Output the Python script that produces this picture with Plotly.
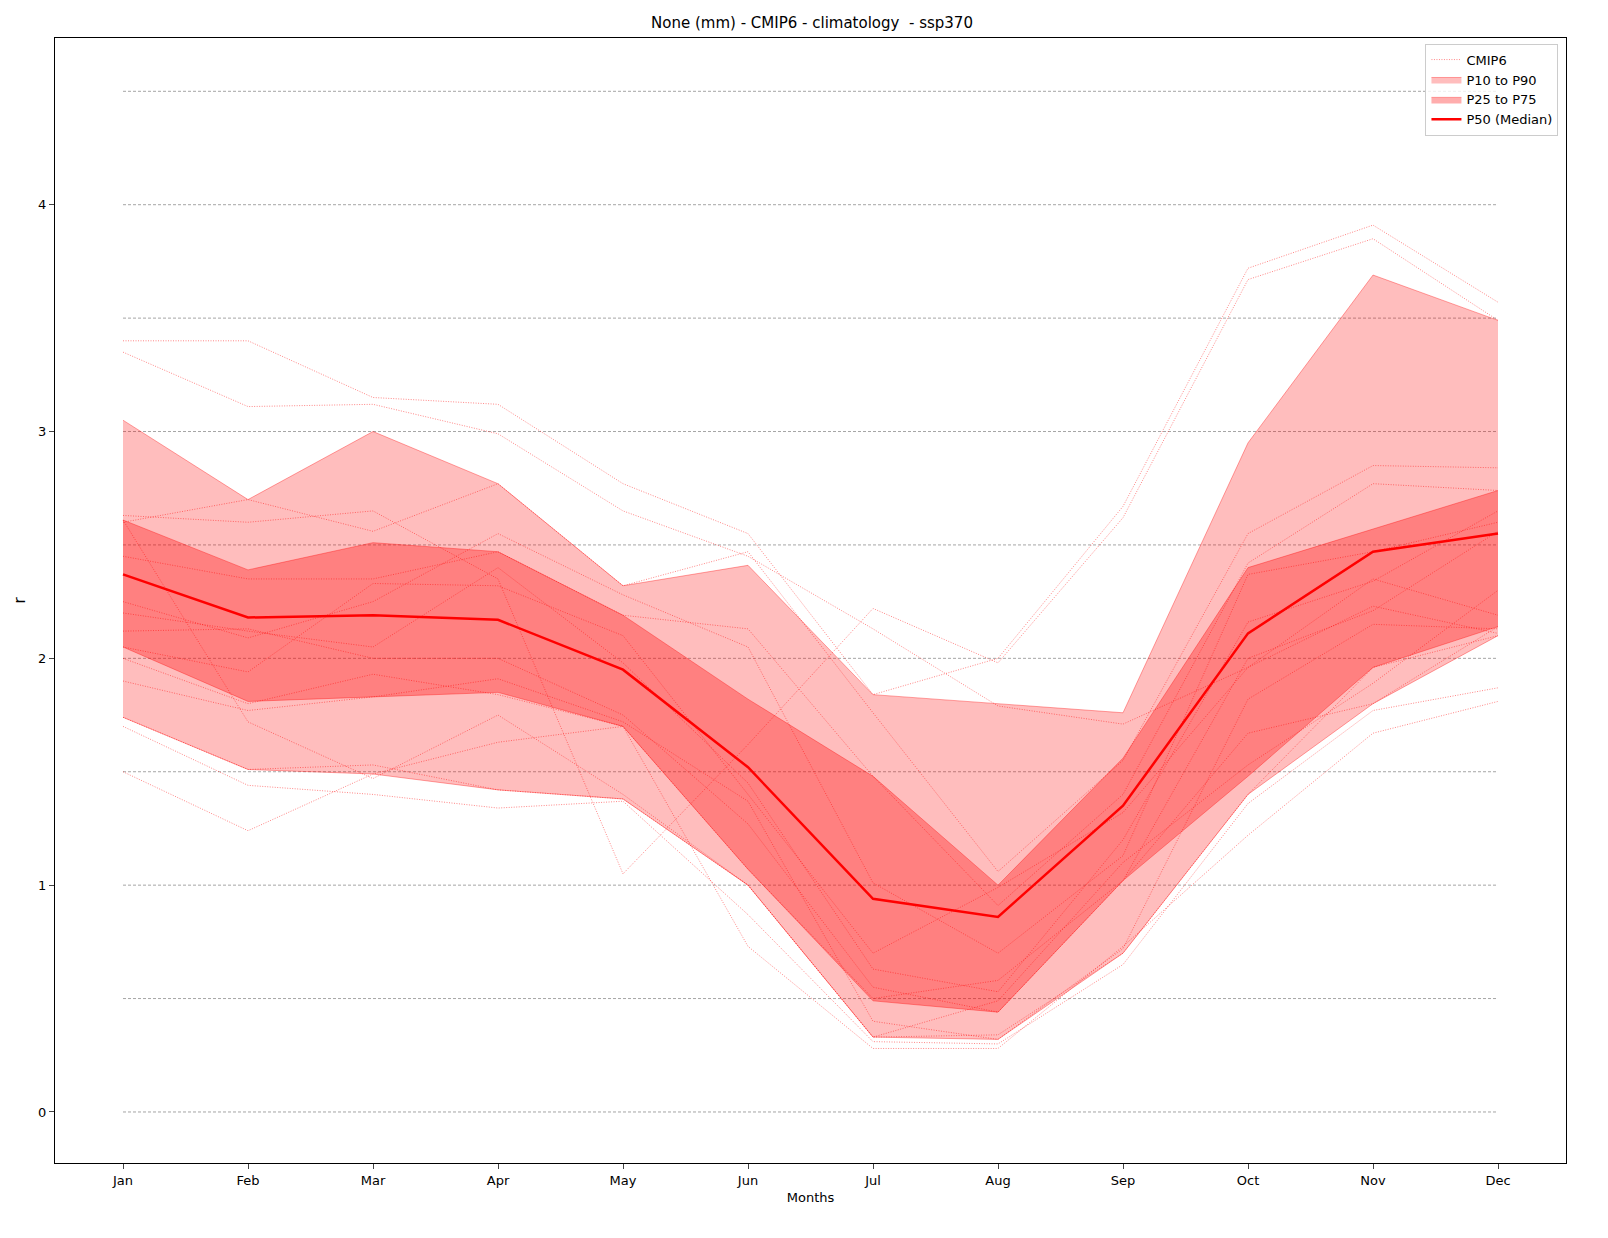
import plotly.graph_objects as go

months = ["Jan", "Feb", "Mar", "Apr", "May", "Jun", "Jul", "Aug", "Sep", "Oct", "Nov", "Dec"]

p90 = [3.05, 2.70, 3.00, 2.77, 2.32, 2.41, 1.84, 1.80, 1.76, 2.95, 3.69, 3.49]
p10 = [1.74, 1.51, 1.49, 1.42, 1.38, 1.00, 0.33, 0.32, 0.70, 1.40, 1.80, 2.10]
p75 = [2.61, 2.39, 2.51, 2.47, 2.19, 1.82, 1.48, 1.00, 1.56, 2.40, 2.57, 2.74]
p25 = [2.05, 1.81, 1.83, 1.85, 1.70, 1.07, 0.49, 0.44, 1.02, 1.48, 1.96, 2.14]
p50 = [2.37, 2.18, 2.19, 2.17, 1.95, 1.52, 0.94, 0.86, 1.35, 2.11, 2.47, 2.55]

models = [
    [3.40, 3.40, 3.15, 3.12, 2.77, 2.55, 1.84, 2.00, 2.67, 3.72, 3.91, 3.57],
    [3.35, 3.11, 3.12, 2.99, 2.65, 2.45, 2.13, 1.79, 1.71, 1.96, 2.35, 2.19],
    [2.63, 2.60, 2.65, 2.35, 1.05, 1.62, 2.22, 1.98, 2.62, 3.67, 3.85, 3.49],
    [2.60, 2.70, 2.56, 2.77, 2.32, 2.47, 1.76, 1.06, 1.55, 2.55, 2.85, 2.84],
    [2.45, 2.35, 2.35, 2.47, 2.19, 2.13, 1.48, 0.91, 1.40, 2.42, 2.77, 2.74],
    [2.25, 2.09, 2.25, 2.55, 2.28, 2.05, 1.01, 0.70, 1.13, 2.37, 2.47, 2.60],
    [2.20, 2.12, 2.05, 2.40, 1.98, 1.45, 0.63, 0.53, 1.20, 2.16, 2.34, 2.65],
    [2.12, 2.13, 2.00, 2.00, 1.75, 1.27, 0.55, 0.44, 1.02, 2.00, 2.21, 2.56],
    [2.05, 1.94, 2.33, 2.32, 2.10, 1.40, 0.70, 0.99, 1.32, 1.96, 2.23, 2.11],
    [2.00, 1.80, 1.93, 1.84, 1.70, 1.07, 0.50, 0.58, 1.02, 1.67, 1.80, 2.14],
    [1.90, 1.77, 1.83, 1.91, 1.72, 1.37, 0.40, 0.32, 0.72, 1.82, 2.15, 2.13],
    [1.74, 1.51, 1.53, 1.42, 1.38, 1.00, 0.33, 0.34, 0.70, 1.40, 1.96, 2.10],
    [1.70, 1.44, 1.40, 1.34, 1.37, 0.87, 0.31, 0.30, 0.65, 1.36, 1.77, 1.87],
    [1.50, 1.24, 1.49, 1.63, 1.70, 0.73, 0.28, 0.28, 0.73, 1.22, 1.67, 1.81],
    [2.61, 1.72, 1.47, 1.75, 1.40, 1.00, 0.33, 0.49, 1.10, 1.53, 1.89, 2.30],
]

grid_levels = [0, 0.5, 1, 1.5, 2, 2.5, 3, 3.5, 4, 4.5]
x = list(range(len(months)))

fig = go.Figure()

# dashed horizontal guides spanning Jan..Dec
for lv in grid_levels:
    fig.add_trace(go.Scatter(x=x, y=[lv] * len(x), mode="lines", showlegend=False, hoverinfo="skip",
                             line=dict(color="rgba(0,0,0,0.6)", width=0.6, dash="3px,2px")))

for i, m in enumerate(models):
    fig.add_trace(go.Scatter(x=x, y=m, mode="lines", name="CMIP6", legendgroup="cmip",
                             showlegend=(i == 0),
                             line=dict(color="rgba(255,0,0,0.8)", width=0.6, dash="1px,1.5px")))

band_line = dict(color="rgba(255,0,0,0.35)", width=1)
fig.add_trace(go.Scatter(x=x, y=p10, mode="lines", line=band_line, showlegend=False, hoverinfo="skip"))
fig.add_trace(go.Scatter(x=x, y=p90, mode="lines", line=band_line, fill="tonexty",
                         fillcolor="rgba(255,0,0,0.26)", name="P10 to P90"))
fig.add_trace(go.Scatter(x=x, y=p25, mode="lines", line=band_line, showlegend=False, hoverinfo="skip"))
fig.add_trace(go.Scatter(x=x, y=p75, mode="lines", line=band_line, fill="tonexty",
                         fillcolor="rgba(255,0,0,0.32)", name="P25 to P75"))
fig.add_trace(go.Scatter(x=x, y=p50, mode="lines", name="P50 (Median)",
                         line=dict(color="red", width=2.5)))

axis = dict(showline=True, linecolor="black", mirror=True, ticks="outside",
            showgrid=False, zeroline=False, tickfont=dict(size=13, color="black"))
fig.update_layout(
    width=1608, height=1238, plot_bgcolor="white", paper_bgcolor="white",
    font=dict(family="DejaVu Sans", size=13, color="black"),
    title=dict(text="None (mm) - CMIP6 - climatology  - ssp370", x=0.5, y=0.988,
               xanchor="center", yanchor="middle", font=dict(size=15)),
    margin=dict(l=47, r=50, t=30, b=83),
    xaxis=dict(axis, tickvals=x, ticktext=months, range=[-0.544, 11.544],
               title=dict(text="Months", standoff=6, font=dict(size=13))),
    yaxis=dict(axis, tickvals=[0, 1, 2, 3, 4], range=[-0.225, 4.735],
               title=dict(text="r", standoff=8)),
    legend=dict(x=0.995, y=0.995, xanchor="right", yanchor="top", bordercolor="#cccccc",
                borderwidth=1, bgcolor="rgba(255,255,255,0.8)", font=dict(size=13),
                tracegroupgap=0),
)
fig.write_html("out.html")
